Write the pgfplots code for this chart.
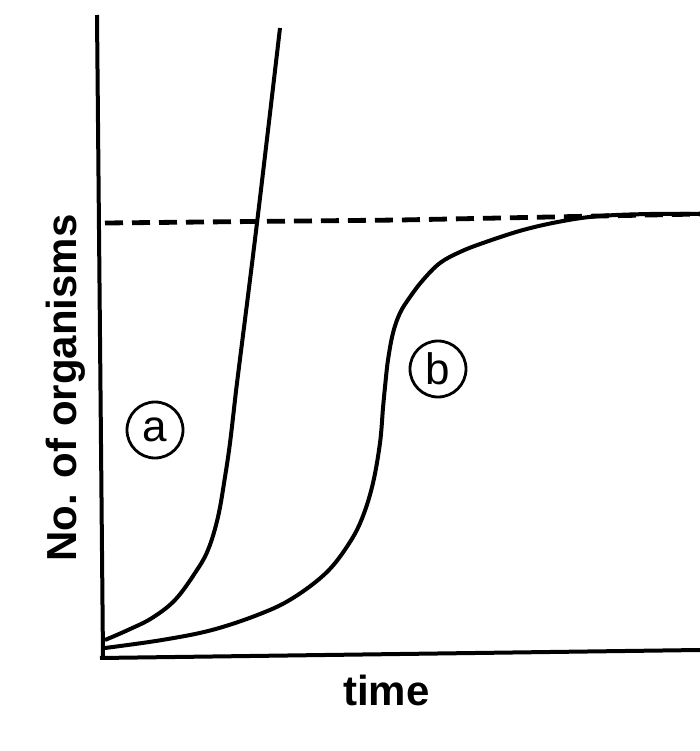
\documentclass[border=0pt]{standalone}
\usepackage{pgfplots}
\pgfplotsset{compat=1.18}
\usepackage{fontspec}
\setmainfont{Liberation Sans}
\begin{document}
\begin{tikzpicture}
\path[use as bounding box] (-50pt,-46.5pt) rectangle (300pt,329pt);
\begin{axis}[
  at={(0,0)}, anchor=south west,
  scale only axis, width=300pt, height=321.5pt,
  xmin=0, xmax=600, ymin=0, ymax=643,
  axis line style={draw=none},
  xtick=\empty, ytick=\empty,
  clip=false,
  xlabel={time}, ylabel={No. of organisms},
  label style={font=\bfseries\fontsize{21}{25}\selectfont},
  xlabel style={at={(axis description cs:0.477,-0.0498)}, anchor=center},
  ylabel style={at={(axis description cs:-0.057,0.42)}, anchor=center},
]
% axes (slightly tilted as in the scan)
\addplot[black, line width=2pt] coordinates {(3,0) (-3,643)};
\addplot[black, line width=2pt] coordinates {(0,0) (600,8)};
% carrying capacity
\addplot[black, line width=2.4pt, dash pattern=on 9pt off 4.5pt] coordinates {(5,435) (300,438) (500,442) (600,444)};
% curve a (J-shaped)
\addplot[black, line width=2pt, smooth, tension=0.6] coordinates {
(5,18) (28,28) (52,40) (75,58) (95,85) (108,108) (118,141) (125,181) (130,215) (135,258) (138,283) (157,435) (180,630)};
% curve b (S-shaped)
\addplot[black, line width=2pt, smooth, tension=0.6] coordinates {
(5,10) (62,18) (112,28) (160,44) (193,60) (227,86) (250,116) (263,142) (273,175) (280,215) (283,250) (285,271) (288,298) (293,325) (300,345) (310,361) (323,378) (340,395) (360,406) (383,415) (423,428) (463,437) (500,442) (550,444) (600,444)};
\node[draw, circle, line width=1.4pt, minimum size=28pt, inner sep=0pt, font=\fontsize{22}{24}\selectfont] at (axis cs:55,228) {a};
\node[draw, circle, line width=1.4pt, minimum size=28pt, inner sep=0pt, font=\fontsize{22}{24}\selectfont] at (axis cs:338,289) {b};
\end{axis}
\end{tikzpicture}
\end{document}
